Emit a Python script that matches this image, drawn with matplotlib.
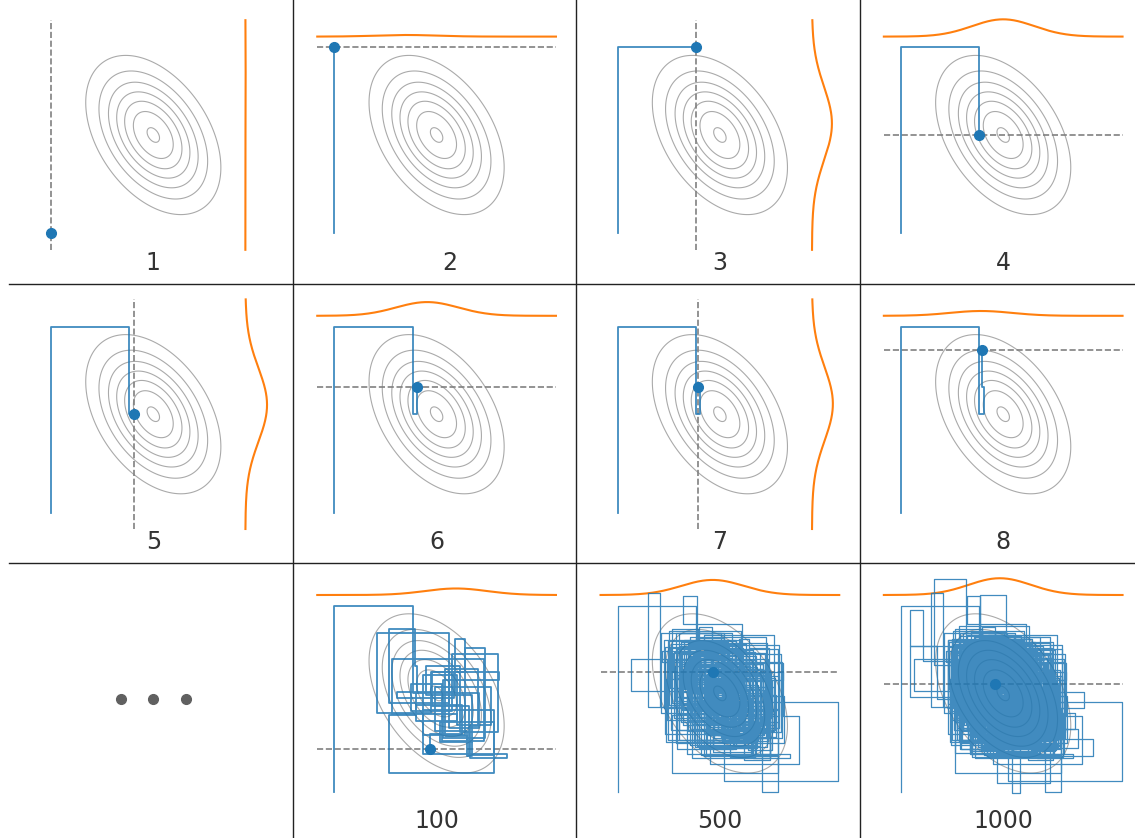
import numpy as np
import matplotlib.pyplot as plt
from matplotlib.lines import Line2D

# target density for the Gibbs sampler
mean = np.array([0.0, 0.0])
cov = np.array([[1.0, -0.5], [-0.5, 1.5]])

# chain states: x_k and y_k, path goes (x_k, y_k) -> (x_k, y_k+1) -> (x_k+1, y_k+1)
x_samples = [
    -3.00, -0.70, -0.57, -0.63, -1.41, 0.35, -1.74, -0.15, 0.84, 1.43,
    0.20, 1.84, 0.50, -1.17, 0.55, 0.84, -0.40, 1.69, 0.95, -0.14,
    0.35, 1.25, -0.60, -1.40, 1.69, 0.10, 1.05, -0.30, 0.70, 1.80,
    0.45, -0.75, 0.15, 1.40, -1.30, 0.60, 1.60, -0.05, 0.90, 1.05,
    0.90, 0.25, 1.20, 0.98, 2.06, -0.40, 0.60, -0.60, 0.75, -0.19,
    0.37, -1.12, 0.84, 0.05, -0.46, 1.58, -0.73, 0.29, 1.04, -1.36,
    -0.18, 0.66, -1.07, -0.68, 1.21, -0.39, 0.93, -1.54, 0.14, 0.72,
    1.46, -0.57, 0.22, -0.94, 0.61, 1.87, -1.28, 0.03, -0.42, 1.13,
    0.48, -1.63, 0.97, -0.21, 0.35, -0.79, 1.31, 0.16, -1.18, 0.54,
    -2.62, 0.81, -0.33, 1.72, 1.23, 1.70, -0.48, 0.27, -0.96, 1.09,
    0.41, -0.87, 1.36, -0.12, -1.45, 0.68, 0.09, 1.51, -0.62, -0.24,
    0.92, -1.21, 0.33, 1.19, -0.55, -1.69, 0.76, -0.08, 1.43, -0.83,
    0.18, -2.11, -1.77, 0.57, -0.36, 1.27, -0.92, 0.44, 1.65, -0.15,
    1.85, 2.31, -0.29, 0.71, -1.13, 0.23, 1.04, -0.67, 0.39, -1.48,
    0.62, -0.11, 1.38, -0.74, 0.26, -1.32, 0.87, 1.59, -0.43, 0.05,
    -0.98, 1.17, -0.31, 0.52, -1.57, 0.94, 0.13, -0.69, 1.28, -0.06,
    3.47, 0.13, -0.84, 1.06, -0.19, 0.47, -1.26, 1.71, -0.58, 0.31,
    -1.43, 0.78, 0.02, 1.34, -0.72, -0.26, 1.12, -1.05, 0.59, 0.21,
    -0.52, 1.48, -0.97, 0.36, 0.84, -1.61, 0.27, -0.14, 1.02, -0.76,
    0.58, -0.33, 1.63, -1.19, 0.11, 0.73, -0.88, 1.25, -0.44, 0.97,
    -1.35, 0.24, 1.09, -0.61, 0.43, -1.02, 1.81, -0.17, 0.66, -0.93,
    1.37, -0.47, 0.12, -1.27, 0.82, 1.54, -0.71, 0.35, -1.08, 0.69,
    -0.26, 1.12, -1.51, 0.48, 0.91, -0.37, 1.46, -0.83, 0.17, -0.05,
    -1.12, 0.63, 1.27, -0.29, 0.08, -0.94, 1.73, 0.41, -0.57, 1.05,
    0.22, -1.38, 0.76, -0.15, 1.19, -0.66, 0.51, 1.36, -0.82, -0.20,
    0.67, -0.94, 1.31, 0.08, -1.27, 0.52, 1.69, -0.38, 0.19, -1.11,
    0.86, -0.23, 0.43, -2.73, 0.97, -0.61, 1.22, -1.46, 0.34, -2.04,
    -1.09, 0.45, 1.58, -0.72, 0.14, -1.33, 0.91, 0.27, -0.53, 1.44,
    -0.18, 1.03, -0.86, 0.62, 2.62, -0.47, 0.33, 1.16, -1.24, 0.09,
    -0.75, 1.41, 2.37, 0.50, 2.11, -0.31, 0.79, -1.52, -0.67, 0.08,
    1.18, -0.64, 0.37, -1.07, 0.83, 1.62, -0.26, 0.04, 0.25, 0.50,
    1.29, -0.43, 0.71, -1.36, 0.18, -0.82, 1.07, 0.46, -0.21, 1.53,
    -0.97, 0.26, 1.39, -0.58, 0.62, -1.44, 0.95, -0.13, 1.21, -0.69,
    0.37, 1.74, -0.91, 0.13, -0.46, 0.88, -1.19, 1.33, 0.02, -0.77,
    -1.95, -2.73, -2.34, 0.54, -0.82, 1.16, 0.28, -0.39, 1.47, -1.04,
    0.73, -0.29, 1.09, -1.25, 0.41, 0.99, -0.18, 1.36, -0.57, 0.12,
    -1.47, 0.64, 1.23, -0.36, 0.07, -0.95, 1.58, -0.72, 0.49, 1.01,
    -0.42, 0.86, -1.63, 0.32, 1.27, -0.14, -0.88, 0.59, 1.68, -1.01,
    0.15, -0.64, 1.12, -1.29, 0.77, 0.38, -0.51, 1.45, -0.97, 0.24,
    1.08, -1.41, 0.53, -0.06, 1.36, -0.79, 0.19, -1.12, 0.92, -0.35,
    1.61, -0.48, 0.27, -1.53, 0.66, 1.14, -0.92, 0.38, -0.14, 1.32,
    -0.61, 0.94, -1.18, 0.47, 1.73, -0.35, 0.12, -0.86, 1.05, 2.20,
    0.36, -0.96, 1.44, -0.23, 0.61, -1.37, 0.84, 0.03, -0.66, 1.19,
    -0.41, 1.52, -0.87, 0.29, -1.49, 0.77, 1.26, -0.19, 0.42, -0.73,
    0.98, -1.24, 0.21, 1.61, -0.54, 0.35, -0.99, 1.18, -0.27, 0.64,
    -1.15, 0.49, 1.37, -0.71, 0.16, -0.38, 1.79, -0.95, 0.58, 0.07,
    -0.63, 1.24, -1.31, 0.44, 0.87, -0.18, 1.12, -1.07, 0.31, 0.76,
    -0.24, 1.45, -0.82, 0.19, -1.58, 0.93, 0.37, -0.46, 1.27, -1.03,
    0.55, -0.37, 1.66, -0.91, 0.24, 1.08, -1.36, 0.62, -0.09, 0.83,
    -1.22, 0.41, 0.96, -0.54, 1.31, -0.17, -0.88, 0.68, -0.44, -0.25,
]
y_samples = [
    -3.00,
    2.67, 0.00, 0.83, 1.96, -0.30, 1.83, -0.60, 0.66, 1.37, -1.37,
    0.40, 0.66, -0.15, 0.05, 1.67, -1.27, -0.50, -1.88, -0.37, 0.66,
    -1.07, 0.00, -0.66, -2.44, -0.87, -1.47, -0.05, 0.85, -1.17, 1.20,
    -0.55, 0.30, -1.45, 1.05, -0.62, -0.95, 0.20, -1.15, -1.45, -1.90,
    -1.30, 0.75, -1.00, -1.96, -1.85, 0.55, -0.85, -0.35, -1.25, -1.71,
    -0.52, 0.91, -1.48, 0.33, 1.77, -0.64, 0.12, -1.95, 1.26, 0.47,
    -1.03, 2.11, 2.98, -0.26, 0.58, -1.67, 1.02, -0.81, 0.36, -2.04,
    -0.37, 1.39, -1.14, 0.71, -0.09, -1.52, 1.85, 0.24, -0.66, -1.21,
    1.64, -0.43, -1.79, 0.88, 0.02, 1.23, -0.97, -0.31, 1.46, 1.05,
    0.06, -1.26, 0.53, -0.68, -3.02, -1.90, 1.12, -0.46, 0.79, -1.58,
    0.34, 1.71, -0.92, 0.15, 1.38, -1.34, 0.63, -0.75, 2.02, -0.18,
    -1.41, 0.56, -0.27, -1.88, 0.97, 1.28, -0.61, 0.41, -1.09, 0.82,
    -0.40, 3.05, -0.40, -1.17, 0.74, -0.52, 1.49, -1.33, -0.06, 0.93,
    -0.68, -2.16, 0.48, -0.87, 1.56, -0.13, -1.42, 0.69, -0.35, 1.91,
    -0.79, 0.38, -1.63, 1.07, -0.22, 0.84, -1.16, -0.54, 1.33, 0.17,
    1.24, -1.01, 0.62, -1.47, 0.45, -0.33, 1.68, 0.09, -1.26, -0.26,
    -2.66, -0.71, 1.14, -0.94, 0.27, -1.71, 1.36, -0.48, 0.81, -1.12,
    1.52, -0.29, -1.35, 0.57, 1.19, -0.84, 0.13, 1.63, -1.02, -0.44,
    0.72, -1.84, 0.96, -0.58, -1.23, 1.41, 0.04, -0.67, -1.49, 1.17,
    -0.91, 0.46, -1.12, 1.83, -0.37, -1.58, 0.89, -0.23, 1.31, -0.76,
    0.55, -0.69, -1.66, 1.05, 0.18, 0.97, -1.37, 0.31, -0.84, 1.54,
    -1.22, 0.64, 1.29, -0.12, -1.74, 0.42, 1.08, -0.96, 0.73, -0.57,
    0.27, -1.43, 1.61, -0.34, -0.88, 0.52, -1.96, 0.86, 0.04, 1.19,
    -0.48, 0.91, -1.28, 0.36, -0.71, 1.47, -1.05, -0.19, 1.02, -1.37,
    0.66, 1.23, -0.55, 0.14, -1.61, 0.83, -0.27, -0.94, 1.14, 0.64,
    -0.46, 1.18, -1.35, 0.29, 1.74, -0.83, -1.59, 0.61, -0.12, 1.37,
    -0.94, 0.53, 1.45, -0.12, -1.08, 0.78, -0.41, 1.26, 0.87, 3.48,
    0.69, -1.17, -0.38, 1.52, -0.64, 0.96, -1.81, 0.21, 1.09, -0.73,
    0.44, -1.29, 1.67, -1.40, -1.90, 0.17, -0.86, -1.13, 1.38, 0.02,
    1.06, -0.45, 0.03, -0.60, -1.10, 0.84, -0.53, 1.16, 3.00, -0.29,
    -1.36, 0.71, -0.18, 1.43, -0.97, -1.64, 0.35, 0.72, -3.05, -0.88,
    -0.24, 1.13, -1.41, 0.87, -0.56, 1.72, -1.09, 0.08, 0.63, -1.76,
    0.92, -0.35, -1.23, 1.34, 0.19, 1.01, -1.48, 0.46, -0.81, 0.57,
    -0.62, -1.95, 1.27, -0.21, 0.83, -1.06, 0.48, -1.52, 1.19, -0.18,
    1.45, 2.54, 0.98, -0.74, 1.31, -0.96, 0.22, 1.58, -1.27, 0.66,
    -0.43, 0.84, -1.69, 1.11, -0.25, -1.60, -2.73, -0.81, 0.94, -0.37,
    1.49, -0.66, -1.18, 0.53, 1.86, -0.11, -1.42, 0.76, -0.58, -1.27,
    0.88, -0.31, 1.64, -1.03, -0.47, 1.22, 0.39, -1.57, -0.92, 0.71,
    -0.16, 1.36, -1.11, 2.07, -0.79, 0.28, 1.05, -1.34, 0.51, -0.63,
    -1.82, 0.97, -0.42, 1.18, -1.23, 0.64, -0.07, 1.53, -0.86, 0.31,
    -0.98, 0.46, -1.57, 1.29, 0.07, -0.71, 1.42, -1.26, 0.59, -0.44,
    1.07, -0.23, 0.81, -1.38, -0.65, 1.74, -0.49, 0.36, -1.09, -1.65,
    0.18, 1.24, -1.33, 0.67, -0.86, 1.51, -0.37, -1.72, 0.94, -0.54,
    1.33, -1.07, 0.42, -0.28, 1.67, -0.91, -1.46, 0.57, -0.15, 1.28,
    -0.72, 0.93, -0.46, -1.54, 1.19, -0.08, 1.46, -1.21, 0.38, -0.97,
    1.62, -0.55, -1.28, 0.79, -0.19, 1.05, -1.84, 0.47, -0.63, 0.26,
    0.91, -1.46, 1.37, -0.33, -0.94, 0.58, -1.12, 1.78, -0.41, -0.86,
    0.43, -1.19, 0.87, 0.14, 1.56, -0.77, -0.28, 1.09, -1.43, 1.32,
    -0.58, 0.72, -1.71, 0.96, -0.32, -1.04, 1.47, -0.63, 0.21, -1.15,
    1.28, -0.24, -0.97, 0.59, -1.36, 0.45, 1.13, -0.71, 0.88, 0.30,
]

# number of path points shown in each panel (None = ellipsis panel)
panel_steps = [1, 2, 3, 4, 5, 6, 7, 8, None, 100, 500, 1000]
panel_labels = ["1", "2", "3", "4", "5", "6", "7", "8", "", "100", "500", "1000"]

W, H = 1135, 838
XS, YS = 34.1, 32.8          # pixels per data unit
LIM = 3.5
BLUE, ORANGE = "#1f77b4", "#ff7f0e"

prec = np.linalg.inv(cov)
norm = 1.0 / (2 * np.pi * np.sqrt(np.linalg.det(cov)))


def pdf(x, y):
    dx = np.asarray(x) - mean[0]
    dy = np.asarray(y) - mean[1]
    q = prec[0, 0] * dx**2 + 2 * prec[0, 1] * dx * dy + prec[1, 1] * dy**2
    return norm * np.exp(-0.5 * q)


# staircase path through the chain
path_x, path_y = [], []
for k in range(len(x_samples)):
    path_x += [x_samples[k], x_samples[k]]
    path_y += [y_samples[k], y_samples[k + 1]]
path_x = np.array(path_x)
path_y = np.array(path_y)

grid = np.linspace(-LIM, LIM, 300)
GX, GY = np.meshgrid(grid, grid)
GZ = pdf(GX, GY)

fig = plt.figure(figsize=(W / 100, H / 100), dpi=100)

for i, n in enumerate(panel_steps):
    r, c = divmod(i, 4)
    cx = 153.3 + 283.3 * c
    cy = 135.0 + 279.2 * r
    ax = fig.add_axes([(cx - 144) / W, 1 - (cy + 149) / H, 283.5 / W, 279 / H])
    ax.set_xlim(-144 / XS, 139.5 / XS)
    ax.set_ylim(-149 / YS, 130 / YS)
    ax.axis("off")

    if n is None:
        ax.plot([-0.95, 0.0, 0.95], [-0.17] * 3, "o", color="#606060", ms=7)
        continue

    ax.contour(GX, GY, GZ, levels=np.arange(0.02, 0.15, 0.02),
               colors="#aaaaaa", linewidths=0.8, zorder=1)

    px, py = path_x[:n], path_y[:n]
    lx, ly = px[-1], py[-1]
    if n % 2 == 1:
        # next update samples y given x
        ax.plot([lx, lx], [-LIM, LIM], "--", color="gray", lw=1.2, zorder=2)
        ys = np.linspace(-LIM, LIM, 300)
        ax.plot(2.7 + 5.25 * pdf(lx, ys), ys, color=ORANGE, lw=1.5, zorder=2)
    else:
        # next update samples x given y
        ax.plot([-LIM, LIM], [ly, ly], "--", color="gray", lw=1.2, zorder=2)
        xs = np.linspace(-LIM, LIM, 300)
        ax.plot(xs, 3.0 + 3.7 * pdf(xs, ly), color=ORANGE, lw=1.5, zorder=2)

    # thinner strokes for the long runs so the tangle stays readable
    ax.plot(px, py, color=BLUE, lw=1.3 if n <= 100 else 0.9, alpha=0.85, zorder=3)
    ax.plot([lx], [ly], "o", color=BLUE, ms=7, zorder=4)

    nudge = 0.38 if panel_labels[i] == "2" else 0.0
    ax.text(nudge, -3.9, panel_labels[i], ha="center", va="center",
            fontsize=17, color="#333333")

# grid separators
for xp in [292.5, 576.0, 859.5]:
    fig.add_artist(Line2D([xp / W, xp / W], [0, 1], color="#222222", lw=1.0))
for yp in [284.0, 563.4]:
    fig.add_artist(Line2D([9.3 / W, 1], [1 - yp / H, 1 - yp / H], color="#222222", lw=1.0))

fig.savefig("out.png", dpi=100)
